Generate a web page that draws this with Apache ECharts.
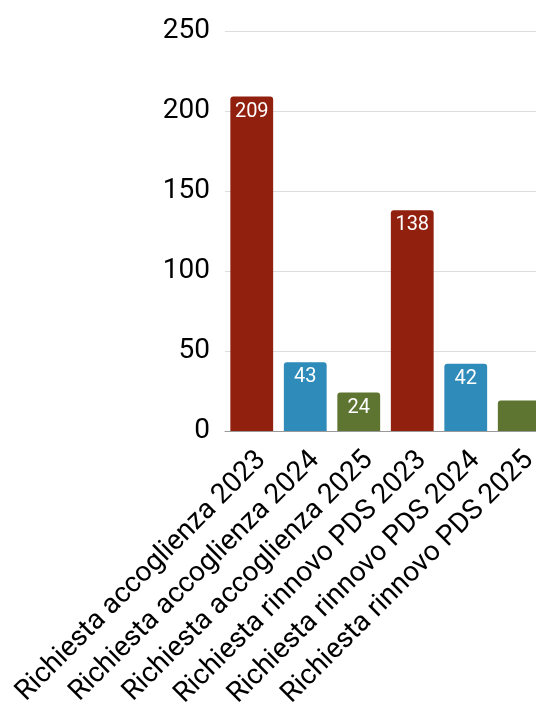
<!DOCTYPE html>
<html>
<head>
<meta charset="utf-8">
<script src="https://cdn.jsdelivr.net/npm/echarts@6/dist/echarts.min.js"></script>
<style>html,body{margin:0;padding:0;background:#fff;overflow:hidden;}#c{width:546px;height:718px;}</style>
</head>
<body>
<div id="c"></div>
<script>
const categories = ["Richiesta accoglienza 2023","Richiesta accoglienza 2024","Richiesta accoglienza 2025","Richiesta rinnovo PDS 2023","Richiesta rinnovo PDS 2024","Richiesta rinnovo PDS 2025"];
const values = [209, 43, 24, 138, 42, 19];
const barColors = ["#92200e","#2e8bba","#5e7431","#92200e","#2e8bba","#5e7431"];
const showLabel = [true, true, true, true, true, false];
const yTicks = { min: 0, max: 250, interval: 50 };

const chart = echarts.init(document.getElementById('c'), null, {renderer:'canvas'});
chart.setOption({
  animation: false,
  textStyle: { fontFamily: 'Roboto' },
  grid: { left: 225, right: 0, top: 31, bottom: 287 },
  xAxis: {
    type: 'category',
    data: categories,
    axisLine: { lineStyle: { color: '#999' } },
    axisTick: { show: false },
    axisLabel: { rotate: 45, color: '#000', fontSize: 28, fontFamily: 'Roboto', margin: 15, interval: 0, align: 'right', verticalAlign: 'top' }
  },
  yAxis: {
    type: 'value',
    min: yTicks.min, max: yTicks.max, interval: yTicks.interval,
    axisLabel: { color: '#000', fontSize: 28, fontFamily: 'Roboto', margin: 15 },
    splitLine: { lineStyle: { color: '#dddddd' } },
    axisLine: { show: false }, axisTick: { show: false }
  },
  series: [{
    type: 'bar',
    barCategoryGap: '20%',
    data: values.map((v, i) => ({
      value: v,
      itemStyle: { color: barColors[i], borderRadius: [3,3,0,0] },
      label: { show: showLabel[i] }
    })),
    label: { position: 'insideTop', color: '#fff', fontSize: 20, fontFamily: 'Roboto', distance: 5 }
  }]
});
</script>
</body>
</html>
